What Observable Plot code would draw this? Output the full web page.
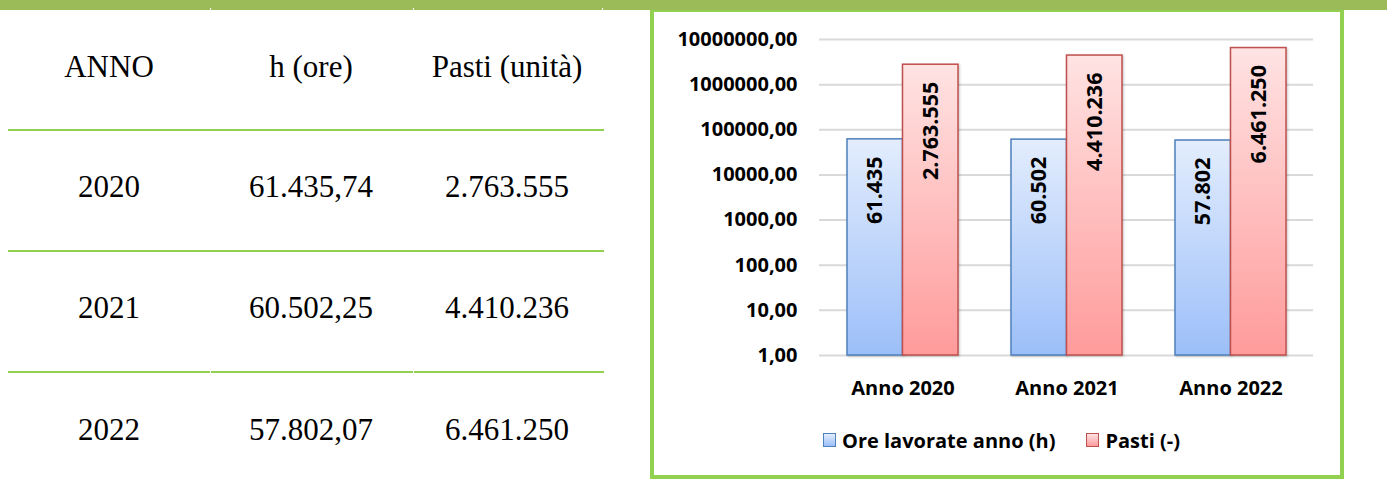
<!DOCTYPE html>
<html><head><meta charset="utf-8">
<script src="https://cdn.jsdelivr.net/npm/d3@7"></script>
<script src="https://cdn.jsdelivr.net/npm/@observablehq/plot@0.6"></script>
<style>
html,body{margin:0;padding:0;background:#fff;}
body{width:1387px;height:483px;position:relative;overflow:hidden;}
#topbar{position:absolute;left:0;top:0;width:1387px;height:10px;background:#9bbb59;z-index:5;}
.notch{position:absolute;top:8px;width:1px;height:2px;background:#fff;}
.cell{position:absolute;font-family:"Liberation Serif","Times New Roman",serif;font-size:31px;color:#000;transform:translate(-50%,-50%);white-space:nowrap;line-height:1;}
.hline{position:absolute;left:8px;width:596px;height:2px;background:#92d050;}
.gap{position:absolute;width:1px;height:2px;background:#fff;}
#box{position:absolute;left:650px;top:8px;width:686px;height:463px;border:4px solid #92d050;}
#chart{position:absolute;left:650px;top:0;z-index:2;}
#chart svg{overflow:visible;}
g[aria-label="bar"] rect{filter:drop-shadow(1.5px 1px 1.2px rgba(0,0,0,0.22));}
#legend{position:absolute;left:823px;top:428px;height:24px;display:flex;align-items:center;font-family:"Open Sans",sans-serif;font-weight:700;font-size:20px;color:#000;white-space:nowrap;z-index:3;}
.sw{display:inline-block;width:11px;height:12px;border:1px solid;margin-right:6px;}
</style>
</head><body>
<svg width="0" height="0" style="position:absolute">
  <defs>
    <linearGradient id="gBlue" x1="0" y1="0" x2="0" y2="1">
      <stop offset="0" stop-color="#e3edfd"/>
      <stop offset="1" stop-color="#9cbff9"/>
    </linearGradient>
    <linearGradient id="gRed" x1="0" y1="0" x2="0" y2="1">
      <stop offset="0" stop-color="#ffe3e3"/>
      <stop offset="1" stop-color="#ff9b9b"/>
    </linearGradient>
  </defs>
</svg>
<div id="topbar"></div>
<div id="table"></div>
<div id="box"></div>
<div id="chart"></div>
<div id="legend"></div>
<script>
// ---- data ----
const anni = ["2020", "2021", "2022"];
const categorie = ["Anno 2020", "Anno 2021", "Anno 2022"];
const oreLavorate = [61435.74, 60502.25, 57802.07];
const pasti = [2763555, 4410236, 6461250];
const serie = ["Ore lavorate anno (h)", "Pasti (-)"];
const intestazioni = ["ANNO", "h (ore)", "Pasti (unità)"];
const yTicks = [1, 10, 100, 1000, 10000, 100000, 1000000, 10000000];

// ---- formatting ----
const itLocale = d3.formatLocale({decimal: ",", thousands: ".", grouping: [3], currency: ["", "€"]});
const fmtDec = itLocale.format(",.2f");
const fmtInt = itLocale.format(",.0f");
const fmtTick = d => d.toFixed(2).replace(".", ",");

// ---- top bar notches ----
const topbar = document.getElementById("topbar");
[210, 413, 602].forEach(x => {
  const n = document.createElement("div"); n.className = "notch"; n.style.left = x + "px"; topbar.appendChild(n);
});

// ---- table ----
const table = document.getElementById("table");
const colX = [109, 311, 507];
const rowY = [66, 186, 307, 429];
const lineY = [129, 250, 371];
function cell(txt, x, y) {
  const d = document.createElement("div"); d.className = "cell";
  d.textContent = txt; d.style.left = x + "px"; d.style.top = y + "px"; table.appendChild(d);
}
intestazioni.forEach((h, j) => cell(h, colX[j], rowY[0]));
anni.forEach((a, i) => {
  cell(a, colX[0], rowY[i + 1]);
  cell(fmtDec(oreLavorate[i]), colX[1], rowY[i + 1]);
  cell(fmtInt(pasti[i]), colX[2], rowY[i + 1]);
});
lineY.forEach((y, k) => {
  const l = document.createElement("div"); l.className = "hline"; l.style.top = y + "px"; table.appendChild(l);
  if (k === lineY.length - 1) {
    [210, 413].forEach(x => {
      const g = document.createElement("div"); g.className = "gap"; g.style.left = x + "px"; g.style.top = y + "px"; table.appendChild(g);
    });
  }
});

// ---- chart ----
const data = categorie.map((c, i) => ({categoria: c, ore: oreLavorate[i], pasti: pasti[i]}));
const half = 55.5;
const chart = Plot.plot({
  width: 694,
  height: 410,
  marginLeft: 169,
  marginRight: 31,
  marginTop: 39,
  marginBottom: 55,
  style: {fontFamily: "'Open Sans', sans-serif", fontWeight: 700, fontSize: "20px", color: "#000", background: "transparent"},
  x: {type: "band", domain: categorie, paddingInner: 0.326, paddingOuter: 0.163, tickSize: 0, tickPadding: 25, label: null},
  y: {type: "log", domain: [1, 1e7], ticks: yTicks, tickFormat: fmtTick, tickSize: 0, tickPadding: 22, label: null},
  marks: [
    Plot.ruleY(yTicks, {stroke: "#d9d9d9", strokeWidth: 2}),
    Plot.barY(data, {x: "categoria", y1: d => 1, y2: "ore", fill: "url(#gBlue)", stroke: "#4f81bd", strokeWidth: 1.5, insetRight: half}),
    Plot.barY(data, {x: "categoria", y1: d => 1, y2: "pasti", fill: "url(#gRed)", stroke: "#c0504d", strokeWidth: 1.5, insetLeft: half}),
    Plot.text(data, {x: "categoria", y: "ore", text: d => fmtInt(Math.floor(d.ore)), rotate: -90, textAnchor: "end", dy: 17, dx: -half / 2, fontSize: 21.5, fontWeight: 700, fill: "#000"}),
    Plot.text(data, {x: "categoria", y: "pasti", text: d => fmtInt(Math.floor(d.pasti)), rotate: -90, textAnchor: "end", dy: 17, dx: half / 2, fontSize: 21.5, fontWeight: 700, fill: "#000"})
  ]
});
document.getElementById("chart").appendChild(chart);

// ---- legend ----
const legend = document.getElementById("legend");
const swatch = [["url(#gBlue)", "#4f81bd", "linear-gradient(#e3edfd,#9cbff9)"], ["url(#gRed)", "#c0504d", "linear-gradient(#ffe3e3,#ff9b9b)"]];
serie.forEach((s, i) => {
  const sw = document.createElement("span"); sw.className = "sw";
  sw.style.borderColor = swatch[i][1]; sw.style.background = swatch[i][2];
  if (i > 0) sw.style.marginLeft = "31px";
  const t = document.createElement("span"); t.textContent = s;
  legend.appendChild(sw); legend.appendChild(t);
});
</script>
</body></html>
